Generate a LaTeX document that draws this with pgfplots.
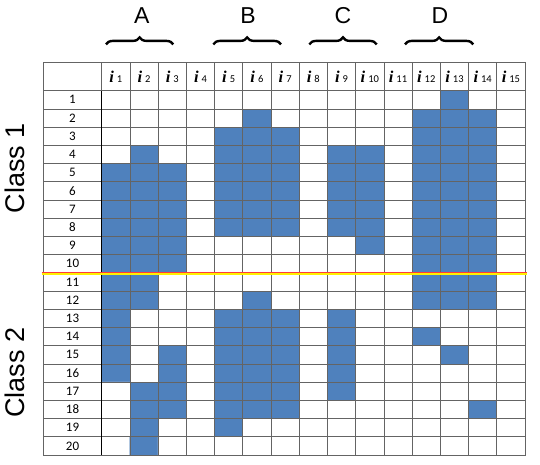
\documentclass[border=0pt]{standalone}
\usepackage{fontspec}
\setmainfont{Carlito}
\newfontfamily\arialfont{Liberation Sans}
\newfontfamily\serifi{Liberation Serif}
\usepackage{pgfplots}
\pgfplotsset{compat=1.18}
\usetikzlibrary{decorations.pathreplacing}
\definecolor{cellblue}{RGB}{79,129,189}
\definecolor{gridc}{RGB}{100,100,100}
\definecolor{sepred}{RGB}{255,60,60}
\definecolor{sepyellow}{RGB}{255,240,0}
\newcommand{\ilab}[1]{{\serifi\bfseries\itshape\fontsize{16.5}{16.5}\selectfont i}\hspace{3pt}{\fontsize{10.5}{10.5}\selectfont #1}}

\begin{document}
\begin{tikzpicture}[x=1pt,y=1pt]
\path[use as bounding box] (0,0) rectangle (540,464);
\begin{axis}[
    at={(101.7pt,373.3pt)}, anchor=north west,
    scale only axis, width=423.3pt, height=364.3pt,
    xmin=0.5, xmax=15.5, ymin=0.5, ymax=20.5, y dir=reverse,
    axis on top, clip=true,
    xtick={1,...,15},
    xticklabels={\ilab{1},\ilab{2},\ilab{3},\ilab{4},\ilab{5},\ilab{6},\ilab{7},\ilab{8},
                 \ilab{9},\ilab{10},\ilab{11},\ilab{12},\ilab{13},\ilab{14},\ilab{15}},
    xticklabel pos=upper,
    ytick={1,...,20},
    yticklabels={1,2,3,4,5,6,7,8,9,10,11,12,13,14,15,16,17,18,19,20},
    minor xtick={0.5,1.5,...,15.5},
    minor ytick={0.5,1.5,...,20.5},
    grid=minor,
    minor grid style={draw=gridc, line width=0.8pt},
    major tick length=0pt, minor tick length=0pt,
    axis line style={draw=gridc, line width=0.8pt},
    xticklabel style={anchor=base, yshift=8.4pt},
    yticklabel style={anchor=center, xshift=-29.2pt, font=\fontsize{13}{13}\selectfont},
    colormap={cells}{color=(white) color=(cellblue)},
    point meta min=0, point meta max=1,
]
% column, row, filled (1) or empty (0)
\addplot[matrix plot*, mesh/cols=15, point meta=explicit]
  table[x index=0, y index=1, meta index=2, header=false, row sep=\\] {
1 1 0\\2 1 0\\3 1 0\\4 1 0\\5 1 0\\6 1 0\\7 1 0\\8 1 0\\9 1 0\\10 1 0\\11 1 0\\12 1 0\\13 1 1\\14 1 0\\15 1 0\\
1 2 0\\2 2 0\\3 2 0\\4 2 0\\5 2 0\\6 2 1\\7 2 0\\8 2 0\\9 2 0\\10 2 0\\11 2 0\\12 2 1\\13 2 1\\14 2 1\\15 2 0\\
1 3 0\\2 3 0\\3 3 0\\4 3 0\\5 3 1\\6 3 1\\7 3 1\\8 3 0\\9 3 0\\10 3 0\\11 3 0\\12 3 1\\13 3 1\\14 3 1\\15 3 0\\
1 4 0\\2 4 1\\3 4 0\\4 4 0\\5 4 1\\6 4 1\\7 4 1\\8 4 0\\9 4 1\\10 4 1\\11 4 0\\12 4 1\\13 4 1\\14 4 1\\15 4 0\\
1 5 1\\2 5 1\\3 5 1\\4 5 0\\5 5 1\\6 5 1\\7 5 1\\8 5 0\\9 5 1\\10 5 1\\11 5 0\\12 5 1\\13 5 1\\14 5 1\\15 5 0\\
1 6 1\\2 6 1\\3 6 1\\4 6 0\\5 6 1\\6 6 1\\7 6 1\\8 6 0\\9 6 1\\10 6 1\\11 6 0\\12 6 1\\13 6 1\\14 6 1\\15 6 0\\
1 7 1\\2 7 1\\3 7 1\\4 7 0\\5 7 1\\6 7 1\\7 7 1\\8 7 0\\9 7 1\\10 7 1\\11 7 0\\12 7 1\\13 7 1\\14 7 1\\15 7 0\\
1 8 1\\2 8 1\\3 8 1\\4 8 0\\5 8 1\\6 8 1\\7 8 1\\8 8 0\\9 8 1\\10 8 1\\11 8 0\\12 8 1\\13 8 1\\14 8 1\\15 8 0\\
1 9 1\\2 9 1\\3 9 1\\4 9 0\\5 9 0\\6 9 0\\7 9 0\\8 9 0\\9 9 0\\10 9 1\\11 9 0\\12 9 1\\13 9 1\\14 9 1\\15 9 0\\
1 10 1\\2 10 1\\3 10 1\\4 10 0\\5 10 0\\6 10 0\\7 10 0\\8 10 0\\9 10 0\\10 10 0\\11 10 0\\12 10 1\\13 10 1\\14 10 1\\15 10 0\\
1 11 1\\2 11 1\\3 11 0\\4 11 0\\5 11 0\\6 11 0\\7 11 0\\8 11 0\\9 11 0\\10 11 0\\11 11 0\\12 11 1\\13 11 1\\14 11 1\\15 11 0\\
1 12 1\\2 12 1\\3 12 0\\4 12 0\\5 12 0\\6 12 1\\7 12 0\\8 12 0\\9 12 0\\10 12 0\\11 12 0\\12 12 1\\13 12 1\\14 12 1\\15 12 0\\
1 13 1\\2 13 0\\3 13 0\\4 13 0\\5 13 1\\6 13 1\\7 13 1\\8 13 0\\9 13 1\\10 13 0\\11 13 0\\12 13 0\\13 13 0\\14 13 0\\15 13 0\\
1 14 1\\2 14 0\\3 14 0\\4 14 0\\5 14 1\\6 14 1\\7 14 1\\8 14 0\\9 14 1\\10 14 0\\11 14 0\\12 14 1\\13 14 0\\14 14 0\\15 14 0\\
1 15 1\\2 15 0\\3 15 1\\4 15 0\\5 15 1\\6 15 1\\7 15 1\\8 15 0\\9 15 1\\10 15 0\\11 15 0\\12 15 0\\13 15 1\\14 15 0\\15 15 0\\
1 16 1\\2 16 0\\3 16 1\\4 16 0\\5 16 1\\6 16 1\\7 16 1\\8 16 0\\9 16 1\\10 16 0\\11 16 0\\12 16 0\\13 16 0\\14 16 0\\15 16 0\\
1 17 0\\2 17 1\\3 17 1\\4 17 0\\5 17 1\\6 17 1\\7 17 1\\8 17 0\\9 17 1\\10 17 0\\11 17 0\\12 17 0\\13 17 0\\14 17 0\\15 17 0\\
1 18 0\\2 18 1\\3 18 1\\4 18 0\\5 18 1\\6 18 1\\7 18 1\\8 18 0\\9 18 0\\10 18 0\\11 18 0\\12 18 0\\13 18 0\\14 18 1\\15 18 0\\
1 19 0\\2 19 1\\3 19 0\\4 19 0\\5 19 1\\6 19 0\\7 19 0\\8 19 0\\9 19 0\\10 19 0\\11 19 0\\12 19 0\\13 19 0\\14 19 0\\15 19 0\\
1 20 0\\2 20 1\\3 20 0\\4 20 0\\5 20 0\\6 20 0\\7 20 0\\8 20 0\\9 20 0\\10 20 0\\11 20 0\\12 20 0\\13 20 0\\14 20 0\\15 20 0\\
};
\end{axis}

% header row and label column of the table
\foreach \k in {0,...,15}
  \draw[gridc, line width=0.8pt] ({101.7+\k*28.22},401.7) -- ({101.7+\k*28.22},373.3);
\foreach \k in {0,...,20}
  \draw[gridc, line width=0.8pt] (43.3,{373.3-\k*18.215}) -- (101.7,{373.3-\k*18.215});
\draw[gridc, line width=0.8pt] (43.3,401.7) -- (525,401.7);
\draw[gridc, line width=0.8pt] (43.3,401.7) -- (43.3,9);
\draw[black, line width=1pt] (101.7,373.3) -- (101.7,9);

% class separator
\draw[sepred, line width=1.4pt] (41.7,191.4) -- (527,191.4);
\draw[sepyellow, line width=1.3pt] (41.7,190.0) -- (527,190.0);

% groups
\foreach \a/\b/\c/\t in {106/173.3/141.7/A, 213.3/281/248/B, 309.3/376.7/343/C, 405/473.3/440/D} {
  \draw[line width=2.4pt, decorate, decoration={brace, amplitude=7pt}] (\a,419.6) -- (\b,419.6);
  \node[font=\arialfont\fontsize{23}{23}\selectfont] at (\c,448.3) {\t};
}

\node[rotate=90, font=\arialfont\fontsize{27}{27}\selectfont] at (14.5,296) {Class 1};
\node[rotate=90, font=\arialfont\fontsize{27}{27}\selectfont] at (14.5,91.5) {Class 2};
\end{tikzpicture}
\end{document}
